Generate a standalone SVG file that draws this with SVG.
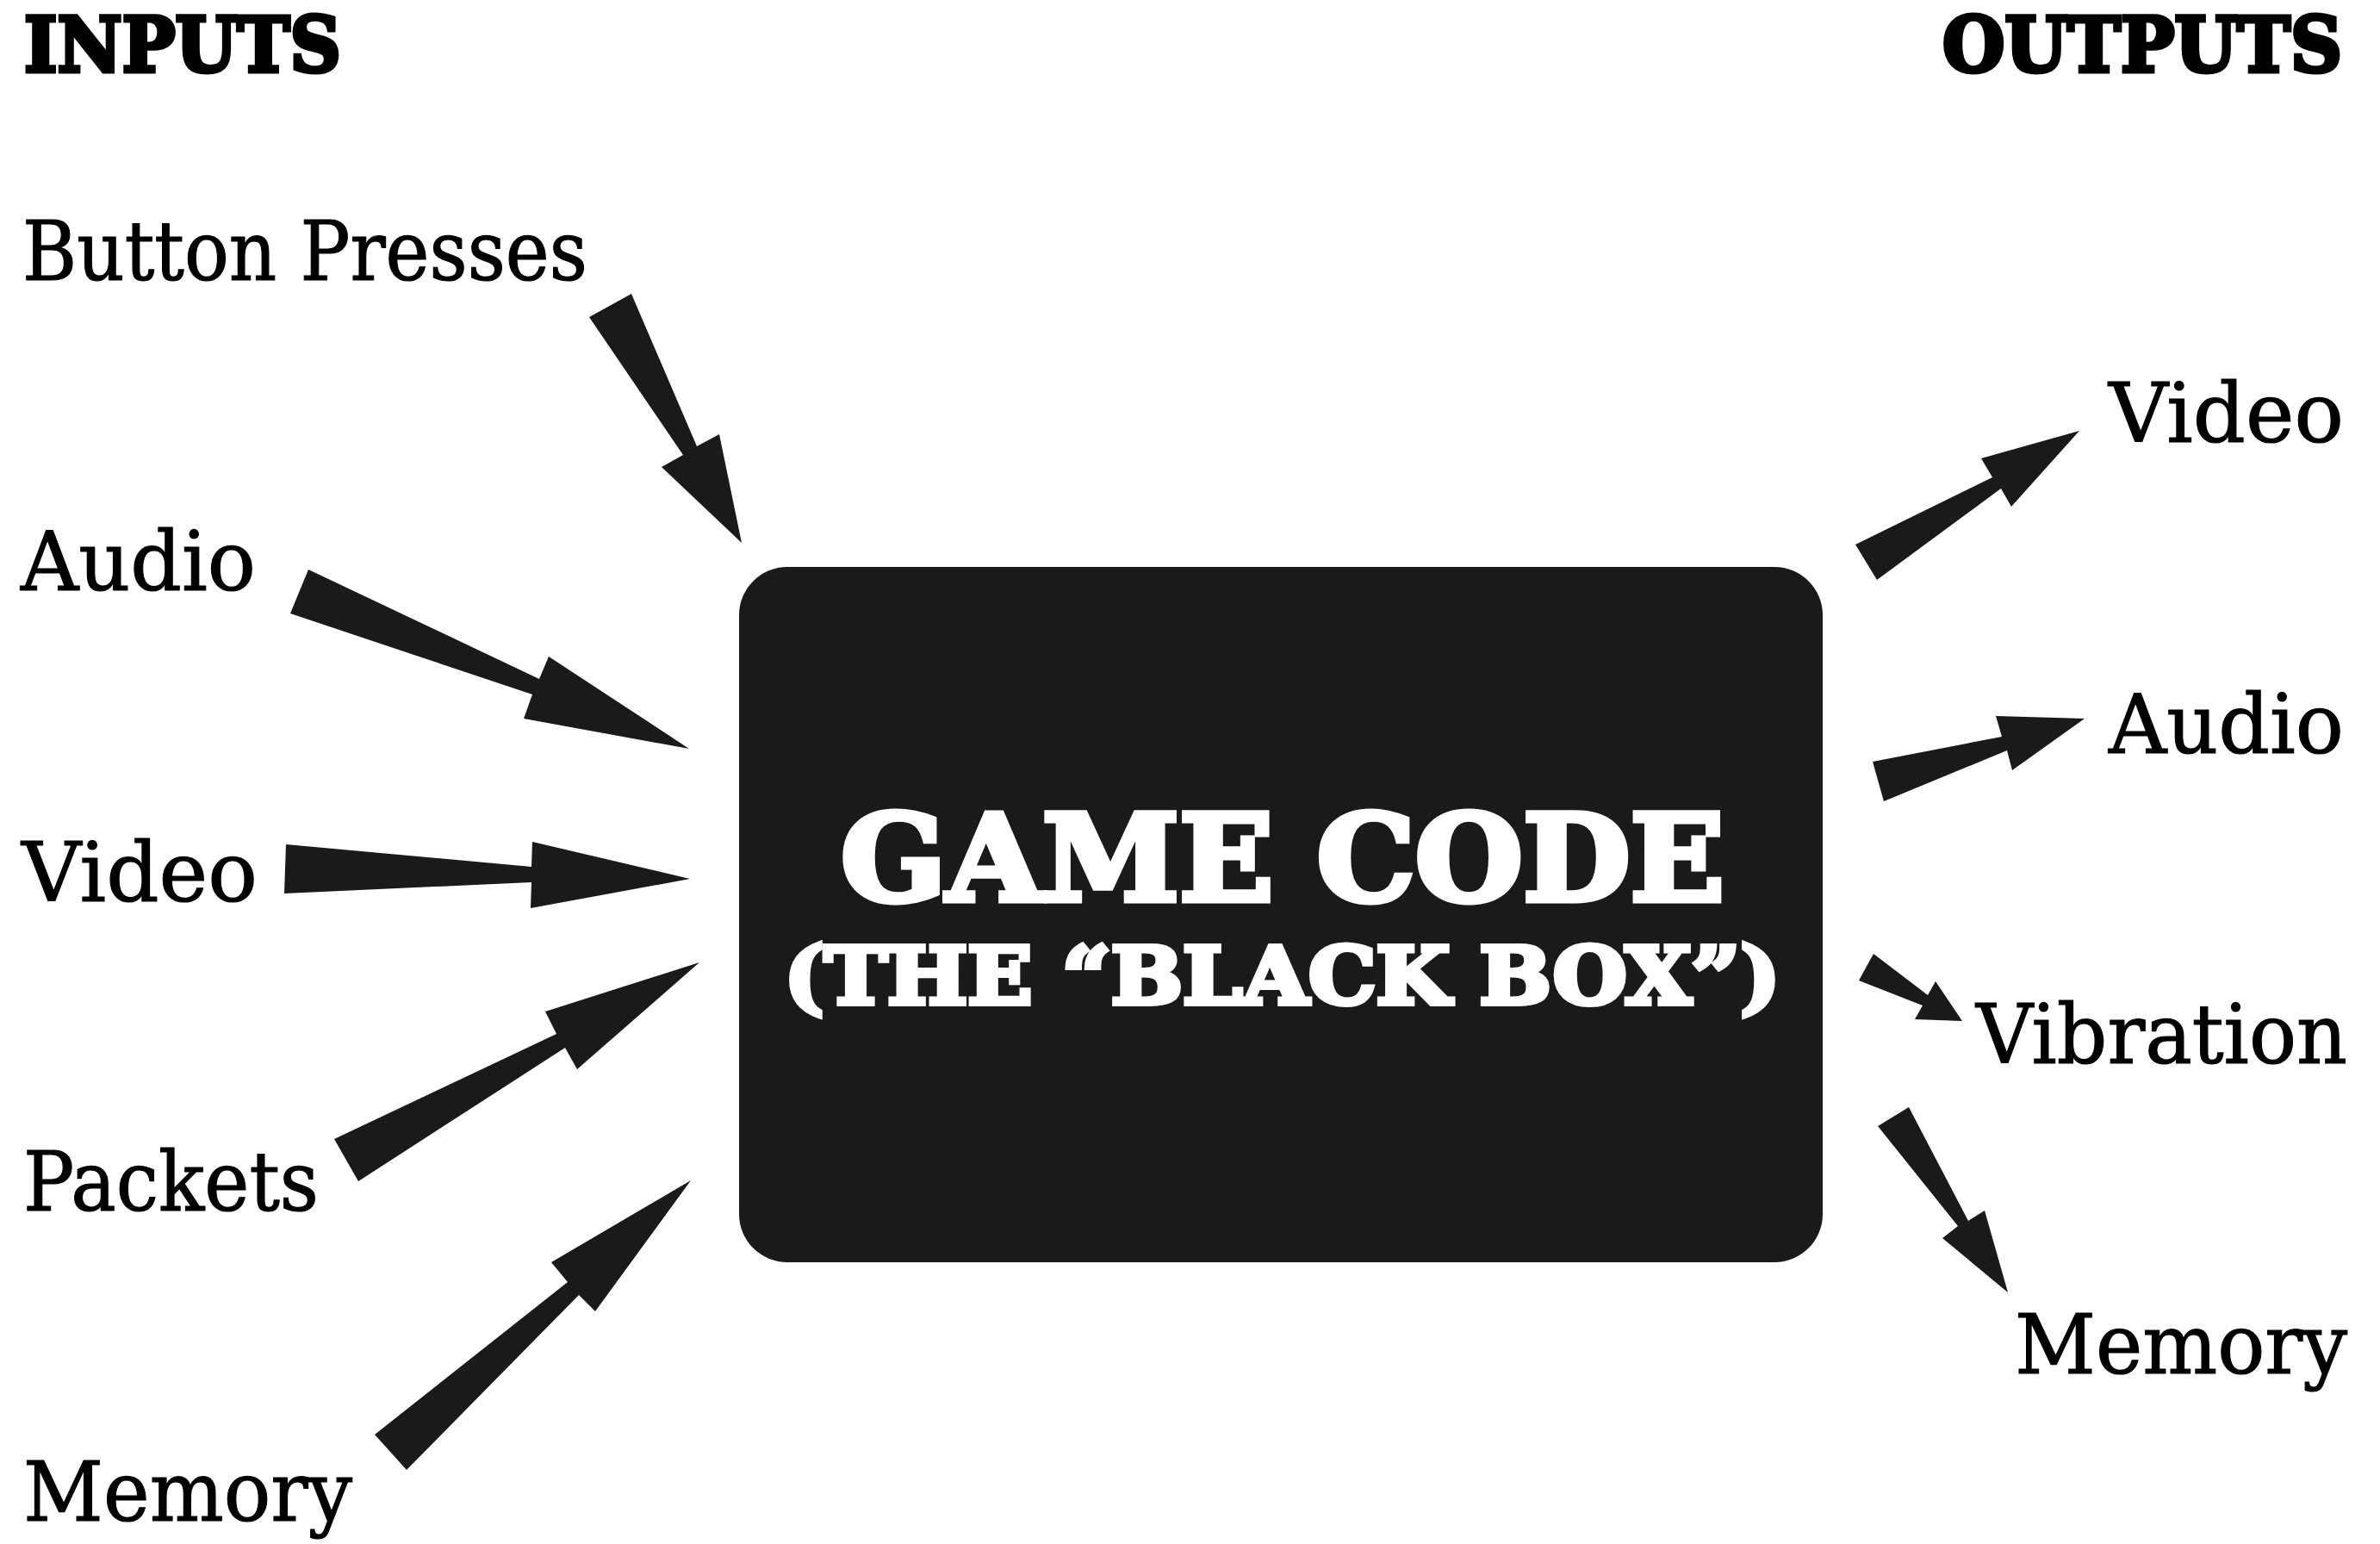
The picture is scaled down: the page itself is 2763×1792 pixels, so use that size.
<svg xmlns="http://www.w3.org/2000/svg" width="2763" height="1792" viewBox="0 0 2763 1792">
<style>
.lbl{font-family:"DejaVu Serif","Liberation Serif",serif;font-size:95px;fill:#000;stroke:#000;stroke-width:1.2px;}
.hdr{font-family:"DejaVu Serif","Liberation Serif",serif;font-size:88px;font-weight:bold;fill:#000;stroke:#000;stroke-width:5px;stroke-linejoin:miter;}
.box{fill:#1a1a1a;}
.ttl{font-family:"DejaVu Serif","Liberation Serif",serif;font-weight:bold;fill:#fff;stroke:#fff;stroke-linejoin:miter;}
.arr{fill:#1a1a1a;stroke:none;}
</style>
<rect width="2763" height="1792" fill="#fff"/>
<g id="headers">
<text class="hdr" x="28" y="83" textLength="368" lengthAdjust="spacingAndGlyphs">INPUTS</text>
<text class="hdr" x="2255" y="83" textLength="464" lengthAdjust="spacingAndGlyphs">OUTPUTS</text>
</g>
<g id="in-button"><text class="lbl" x="26" y="325" textLength="656" lengthAdjust="spacingAndGlyphs">Button Presses</text></g>
<g id="in-audio"><text class="lbl" x="24" y="685" textLength="273" lengthAdjust="spacingAndGlyphs">Audio</text></g>
<g id="in-video"><text class="lbl" x="25" y="1046" textLength="274" lengthAdjust="spacingAndGlyphs">Video</text></g>
<g id="in-packets"><text class="lbl" x="27" y="1405" textLength="343" lengthAdjust="spacingAndGlyphs">Packets</text></g>
<g id="in-memory"><text class="lbl" x="27" y="1765" textLength="382" lengthAdjust="spacingAndGlyphs">Memory</text></g>
<g id="out-video"><text class="lbl" x="2448" y="513" textLength="273" lengthAdjust="spacingAndGlyphs">Video</text></g>
<g id="out-audio"><text class="lbl" x="2448" y="874" textLength="273" lengthAdjust="spacingAndGlyphs">Audio</text></g>
<g id="out-vibration"><text class="lbl" x="2294" y="1234" textLength="431" lengthAdjust="spacingAndGlyphs">Vibration</text></g>
<g id="out-memory"><text class="lbl" x="2339" y="1594" textLength="386" lengthAdjust="spacingAndGlyphs">Memory</text></g>
<g id="game-code">
<rect class="box" x="858" y="658" width="1258" height="807" rx="56" ry="56"/>
<text class="ttl" x="976" y="1045" font-size="138" stroke-width="7" textLength="1026" lengthAdjust="spacingAndGlyphs">GAME CODE</text>
<text class="ttl" x="910" y="1165" font-size="92" stroke-width="6" textLength="1157" lengthAdjust="spacingAndGlyphs">(THE “BLACK BOX”)</text>
</g>
<g id="connectors">
<polygon class="arr" points="684,368 733,341 809,518 835,504 861,630 768,542 793,528"/>
<polygon class="arr" points="358,661 626,788 637,762 800,869 608,834 618,806 337,712"/>
<polygon class="arr" points="332,980 617,1006 618,977 801,1020 616,1054 617,1024 330,1037"/>
<polygon class="arr" points="388,1322 646,1200 633,1174 812,1117 670,1241 656,1216 416,1371"/>
<polygon class="arr" points="435,1665 659,1488 640,1465 802,1370 691,1522 672,1503 472,1706"/>
<polygon class="arr" points="2154,632 2313,554 2300,532 2414,500 2335,588 2323,567 2179,673"/>
<polygon class="arr" points="2174,884 2324,855 2317,831 2420,834 2336,894 2330,871 2187,930"/>
<polygon class="arr" points="2175,1107 2238,1155 2247,1139 2278,1185 2223,1183 2232,1167 2158,1138"/>
<polygon class="arr" points="2216,1285 2285,1417 2304,1405 2331,1500 2255,1437 2273,1423 2180,1307"/>
</g>
</svg>
